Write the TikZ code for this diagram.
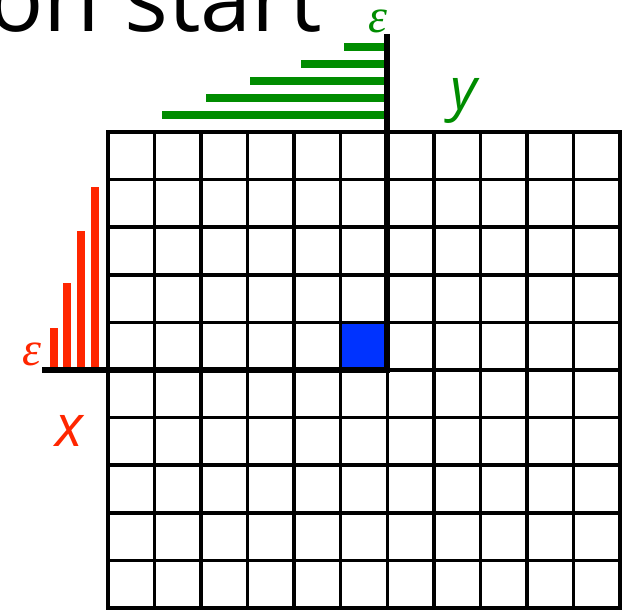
\documentclass[tikz,border=0pt]{standalone}
\usepackage{fontspec}
\newfontfamily\slidefont{Open Sans}
\newfontfamily\epsfont{Liberation Serif}
\definecolor{bargreen}{RGB}{0,140,0}
\definecolor{barred}{RGB}{255,38,0}
\definecolor{cellblue}{RGB}{0,51,255}

\begin{document}
\begin{tikzpicture}[x=1pt,y=-1pt,
    gridline/.style={line width=3.5pt},
    axisline/.style={line width=6.5pt},
    gbar/.style={fill=bargreen},
    rbar/.style={fill=barred},
    eps/.style={inner sep=0pt,anchor=base,text height=22pt,text depth=0pt,font=\epsfont\itshape\fontsize{48}{52}\selectfont},
    axlabel/.style={inner sep=0pt,anchor=base,font=\slidefont\itshape\fontsize{58}{62}\selectfont}]
        \useasboundingbox (0,0) rectangle (633,610);
        \clip (0,0) rectangle (633,610);
        % title, cut by the frame
        \node[inner sep=0pt,anchor=base east,font=\slidefont\fontsize{92}{96}\selectfont] (title) at (322,32) {on start};
        % the chosen cell
        \fill[cellblue] (341,322) rectangle (387,370);
        % grid
        \foreach \i in {1,...,10}
            \draw[gridline] ({108+\i*46.545},132) -- ({108+\i*46.545},608);
        \foreach \j in {1,...,9}
            \draw[gridline] (108,{132+\j*47.6}) -- (620,{132+\j*47.6});
        \draw[gridline] (108,132) rectangle (620,608);
        % axes through the cell corner
        \coordinate (corner) at (387,370);
        \coordinate (ytop) at (387,34);
        \coordinate (xleft) at (42,370);
        \draw[axisline] (ytop) -- (corner) -- (xleft);
        % y bars
        \foreach \l/\y in {344/47,301/64,250/81,206/98,162/115}
            \fill[gbar] (\l,{\y-3.8}) rectangle (384,{\y+3.8});
        % x bars
        \foreach \x/\t in {50/328,63/283,77/231,91/187}
            \fill[rbar] (\x,\t) rectangle ({\x+7.5},367);
        % labels
        \node[eps,text=bargreen] (epsy) at (378,33) {ε};
        \node[eps,text=barred] (epsx) at (32,365) {ε};
        \node[axlabel,text=bargreen] (ylab) at (464,110) {y};
        \node[axlabel,text=barred] (xlab) at (69,446) {x};
\end{tikzpicture}
\end{document}
